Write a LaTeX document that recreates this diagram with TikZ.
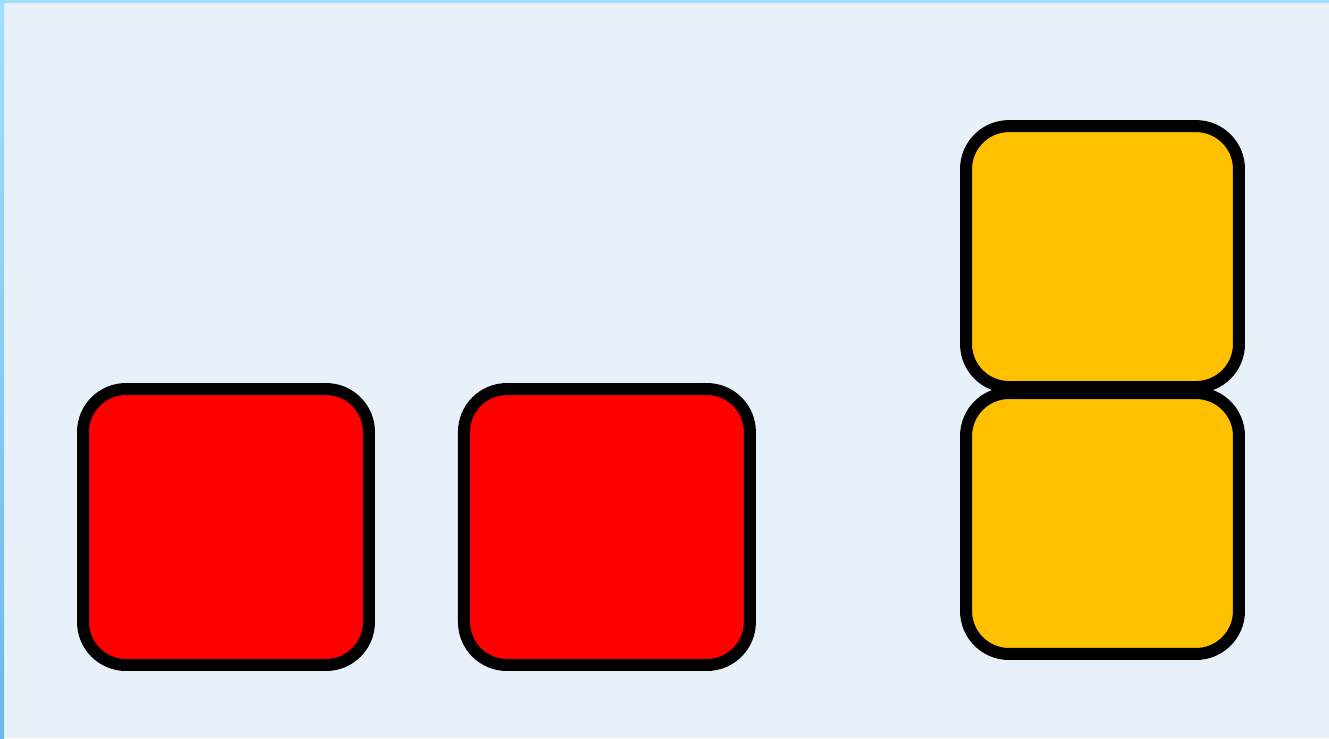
\documentclass[tikz,border=0pt]{standalone}
\usepackage{xcolor}
\usepackage{tikz}
\usetikzlibrary{positioning}
\definecolor{canvas}{HTML}{E8F0FA}
\definecolor{edgetop}{HTML}{A0E0FA}
\definecolor{edgelow}{HTML}{6CB8E8}
\definecolor{redblock}{HTML}{FF0000}
\definecolor{goldblock}{HTML}{FFC000}

\begin{document}
\begin{tikzpicture}[
  x=0.02cm, y=-0.02cm,
  block/.style={rectangle, rounded corners=0.86cm, draw=black, line width=0.24cm, inner sep=0pt, outer sep=0pt},
  redbox/.style={block, fill=redblock, minimum width=5.72cm, minimum height=5.52cm},
  goldbox/.style={block, fill=goldblock, minimum width=5.46cm, minimum height=5.22cm},
]

  % Canvas and frame
  \fill[canvas] (0,0) rectangle (1329,738);
  \fill[edgetop] (0,0) rectangle (1329,3);
  \shade[top color=edgetop, bottom color=edgelow] (0,0) rectangle (4,738);
  \useasboundingbox (0,0) rectangle (1329,738);

  % Red blocks
  \node[redbox] (redA) at (226,527) {};
  \node[redbox, right=1.9cm of redA] (redB) {};

  % Stacked gold blocks
  \node[goldbox] (goldlow) at (1102.5,523.5) {};
  \node[goldbox, above=0.12cm of goldlow] (goldhigh) {};

\end{tikzpicture}
\end{document}
